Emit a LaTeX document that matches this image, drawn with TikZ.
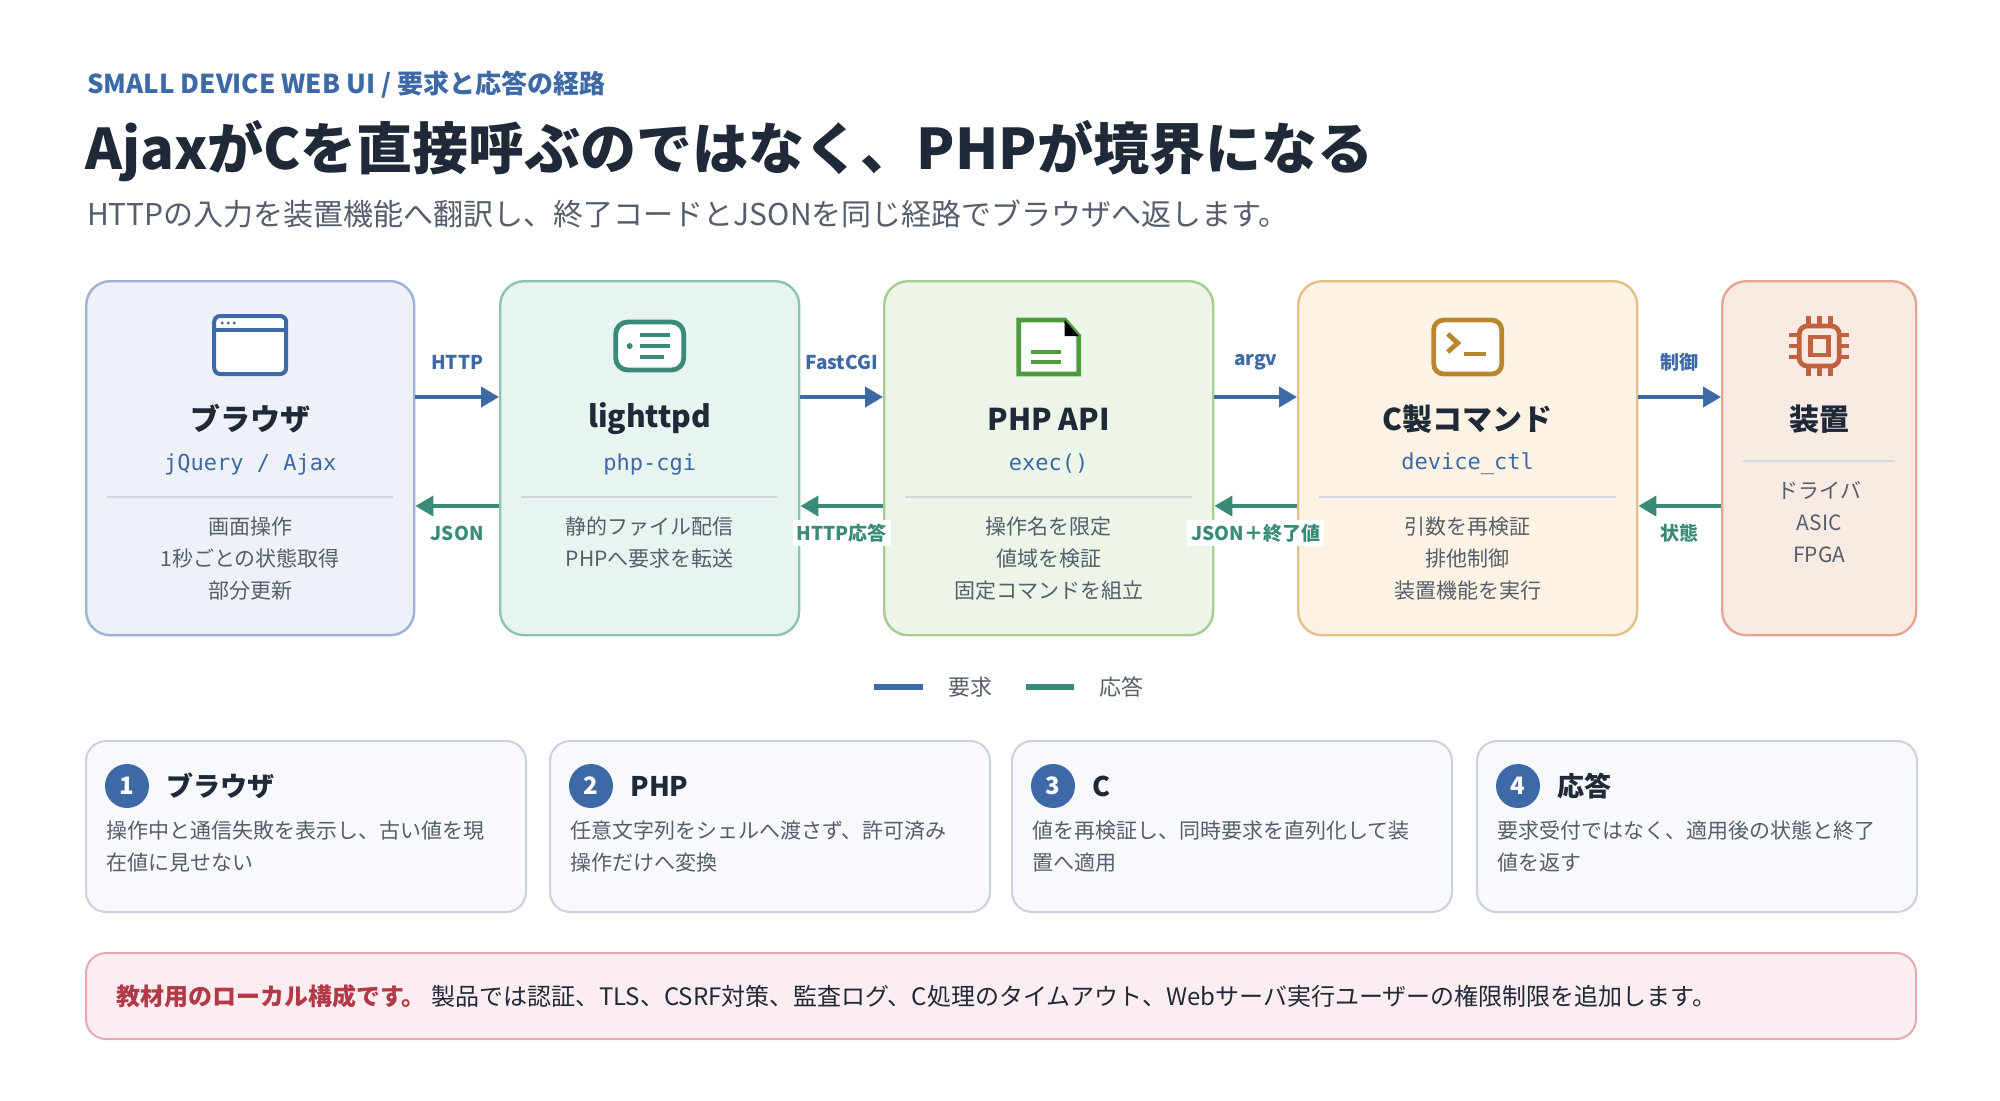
\documentclass[tikz,border=0pt]{standalone}
\usepackage{fontspec}
\setmainfont{Noto Sans CJK JP}
\setmonofont{DejaVu Sans Mono}
\usetikzlibrary{positioning,arrows.meta,calc}
\definecolor{ink}{HTML}{1F2937}
\definecolor{mute}{HTML}{555E6B}
\definecolor{reqc}{HTML}{3D69A6}
\definecolor{resc}{HTML}{3A8A78}
\definecolor{bluef}{HTML}{EEF2F8}\definecolor{blued}{HTML}{9DB2D4}
\definecolor{tealf}{HTML}{E8F4F0}\definecolor{teald}{HTML}{8CC4B4}
\definecolor{greenf}{HTML}{EDF5E8}\definecolor{greend}{HTML}{A6CC92}\definecolor{greeni}{HTML}{4E9A3E}
\definecolor{orangef}{HTML}{FCF3E4}\definecolor{oranged}{HTML}{E2C184}\definecolor{orangei}{HTML}{B8862E}
\definecolor{redf}{HTML}{FAEAE4}\definecolor{redd}{HTML}{E2A692}\definecolor{redi}{HTML}{C0623F}
\definecolor{cardf}{HTML}{F7F9FC}\definecolor{cardd}{HTML}{C9D2DE}
\definecolor{warnf}{HTML}{FCEEF0}\definecolor{warnd}{HTML}{E6A9B2}\definecolor{warnt}{HTML}{B23A48}
\definecolor{sepc}{HTML}{D3D8DF}
\tikzset{
  stage/.style={draw=#1, line width=1.2pt, rounded corners=12pt, minimum height=177pt, anchor=north west},
  sname/.style={font=\fontsize{15}{18}\selectfont\bfseries, text=ink},
  smono/.style={font=\ttfamily\fontsize{11}{13}\selectfont, text=reqc},
  sbody/.style={font=\fontsize{10.5}{16}\selectfont, text=mute, align=center},
  req/.style={draw=reqc, line width=2pt, -{Triangle[length=9pt,width=10pt]}},
  res/.style={draw=resc, line width=2pt, -{Triangle[length=9pt,width=10pt]}},
  lab/.style={font=\fontsize{9.5}{11}\selectfont\bfseries, fill=white, inner sep=2pt},
  card/.style={draw=cardd, fill=cardf, line width=1pt, rounded corners=10pt, minimum width=220pt, minimum height=85.5pt, anchor=north west},
  num/.style={circle, fill=reqc, text=white, minimum size=22pt, inner sep=0pt, font=\fontsize{12}{12}\selectfont\bfseries},
  ctitle/.style={font=\fontsize{13.5}{16}\selectfont\bfseries, text=ink, anchor=west},
  cbody/.style={font=\fontsize{10.5}{16}\selectfont, text=mute, anchor=north west, align=left}
}
\begin{document}
\begin{tikzpicture}[x=0.5pt,y=-0.5pt]
\useasboundingbox (0,0) rectangle (2000,1100);
% header
\node[anchor=west, font=\fontsize{13}{15}\selectfont\bfseries, text=reqc] (kick) at (80,85) {SMALL DEVICE WEB UI / 要求と応答の経路};
\node[anchor=west, font=\fontsize{28}{32}\selectfont\bfseries, text=ink] (title) at (78,151) {AjaxがCを直接呼ぶのではなく、PHPが境界になる};
\node[anchor=west, font=\fontsize{15}{18}\selectfont, text=mute] (sub) at (80,214) {HTTPの入力を装置機能へ翻訳し、終了コードとJSONを同じ経路でブラウザへ返します。};
% stages
\node[stage=blued, fill=bluef, minimum width=164pt] (brw) at (85,280) {};
\node[stage=teald, fill=tealf, minimum width=149.5pt] (lig) at (499,280) {};
\node[stage=greend, fill=greenf, minimum width=164.5pt] (php) at (883,280) {};
\node[stage=oranged, fill=orangef, minimum width=169.5pt] (cmd) at (1297,280) {};
\node[stage=redd, fill=redf, minimum width=97pt] (dev) at (1721,280) {};
\foreach \b/\n/\m/\t in {brw/ブラウザ/{jQuery / Ajax}/{画面操作\\1秒ごとの状態取得\\部分更新},
  lig/lighttpd/php-cgi/{静的ファイル配信\\PHPへ要求を転送},
  php/PHP API/exec()/{操作名を限定\\値域を検証\\固定コマンドを組立},
  cmd/C製コマンド/device\_ctl/{引数を再検証\\排他制御\\装置機能を実行}}{
  \node[sname] (\b-name) at (\b.north |- 0,419) {\n};
  \node[smono] (\b-mono) at (\b.north |- 0,464) {\m};
  \draw[sepc, line width=1pt] ($(\b.west |- 0,497)+(22,0)$) -- ($(\b.east |- 0,497)+(-22,0)$);
  \node[sbody, anchor=north] (\b-body) at (\b.north |- 0,510) {\t};
}
\node[sname] (dev-name) at (dev.north |- 0,419) {装置};
\draw[sepc, line width=1pt] ($(dev.west |- 0,461)+(22,0)$) -- ($(dev.east |- 0,461)+(-22,0)$);
\node[sbody, anchor=north] (dev-body) at (dev.north |- 0,474) {ドライバ\\ASIC\\FPGA};
% icons
\begin{scope}[shift={(brw.north |- 0,346)}, reqc, line width=2pt, rounded corners=3pt]
  \draw[fill=white] (-36,-30) rectangle (36,28);
  \draw (-36,-16) -- (36,-16);
  \foreach \i in {-28,-22,-16} \fill (\i,-23) circle (1.6);
\end{scope}
\begin{scope}[shift={(lig.north |- 0,346)}, resc, line width=2.4pt]
  \draw[rounded corners=6pt, fill=white] (-34,-24) rectangle (34,24);
  \fill (-20,0) circle (3);
  \draw (-10,-11) -- (20,-11) (-10,0) -- (20,0) (-10,11) -- (14,11);
\end{scope}
\begin{scope}[shift={(php.north |- 0,346)}, greeni, line width=2.4pt]
  \draw[fill=white] (-30,-26) -- (16,-26) -- (30,-10) -- (30,28) -- (-30,28) -- cycle;
  \fill[black] (16,-26) -- (30,-10) -- (16,-10) -- cycle;
  \draw (-18,6) -- (12,6) (-18,16) -- (12,16);
\end{scope}
\begin{scope}[shift={(cmd.north |- 0,346)}, orangei, line width=2.4pt]
  \draw[rounded corners=5pt, fill=white] (-34,-26) rectangle (34,28);
  \draw (-20,-12) -- (-10,-3) -- (-20,6);
  \draw (-4,8) -- (18,8);
\end{scope}
\begin{scope}[shift={(dev.north |- 0,346)}, redi, line width=2.4pt]
  \draw[rounded corners=4pt] (-20,-20) rectangle (20,20);
  \draw (-9,-9) rectangle (9,9);
  \foreach \i in {-11,0,11}{\draw (\i,-20) -- (\i,-30) (\i,20) -- (\i,30) (-20,\i) -- (-30,\i) (20,\i) -- (30,\i);}
\end{scope}
% arrows
\coordinate (fy) at (0,397);
\coordinate (by) at (0,506);
\foreach \a/\b/\f/\r in {brw/lig/HTTP/JSON, lig/php/FastCGI/HTTP応答, php/cmd/argv/JSON＋終了値, cmd/dev/制御/状態}{
  \draw[req] (\a.east |- fy) -- (\b.west |- fy) coordinate[midway] (\a-fm);
  \draw[res] (\b.west |- by) -- (\a.east |- by) coordinate[midway] (\a-bm);
  \node[lab, text=reqc] at ($(\a-fm)+(0,-35)$) {\f};
  \node[lab, text=resc] at ($(\a-bm)+(0,27)$) {\r};
}
% legend
\draw[reqc, line width=3pt] (874,687) -- (923,687) node[right=8pt, font=\fontsize{11}{13}\selectfont, text=mute] (lreq) {要求};
\draw[resc, line width=3pt] (1026,687) -- (1074,687) node[right=8pt, font=\fontsize{11}{13}\selectfont, text=mute] (lres) {応答};
% cards
\foreach \k/\x/\t/\s in {1/85/ブラウザ/{操作中と通信失敗を表示し、古い値を現\\在値に見せない},
  2/549/PHP/{任意文字列をシェルへ渡さず、許可済み\\操作だけへ変換},
  3/1011/C/{値を再検証し、同時要求を直列化して装\\置へ適用},
  4/1476/応答/{要求受付ではなく、適用後の状態と終了\\値を返す}}{
  \node[card] (card\k) at (\x,740) {};
  \node[num] (num\k) at ($(card\k.north west)+(42,46)$) {\k};
  \node[ctitle] (ct\k) at ($(num\k.east)+(10,0)$) {\t};
  \node[cbody] (cb\k) at ($(card\k.north west)+(14,74)$) {\s};
}
% banner
\node[draw=warnd, fill=warnf, line width=1pt, rounded corners=10pt, minimum width=915pt, minimum height=43pt, anchor=north west] (note) at (85,952) {};
\node[anchor=west, font=\fontsize{12}{14}\selectfont, text=ink] (notet) at ($(note.west)+(24,0)$) {\textcolor{warnt}{\bfseries 教材用のローカル構成です。} 製品では認証、TLS、CSRF対策、監査ログ、C処理のタイムアウト、Webサーバ実行ユーザーの権限制限を追加します。};
\end{tikzpicture}
\end{document}
